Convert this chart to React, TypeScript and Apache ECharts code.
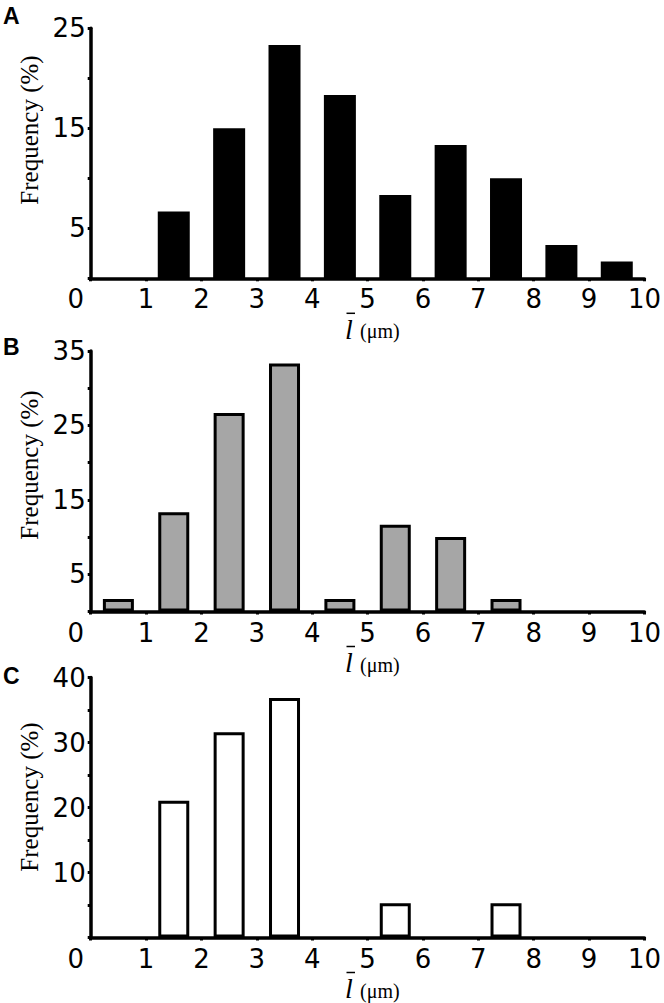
import React, { useEffect, useRef } from "react";
import * as echarts from "echarts";

// Bin centres (µm) and frequencies (%)
const binCenters = [0.5, 1.5, 2.5, 3.5, 4.5, 5.5, 6.5, 7.5, 8.5, 9.5];
const freqA = [0, 6.67, 15.0, 23.33, 18.33, 8.33, 13.33, 10.0, 3.33, 1.67];
const freqB = [1.67, 13.33, 26.67, 33.33, 1.67, 11.67, 10.0, 1.67, 0, 0];
const freqC = [0, 21.05, 31.58, 36.84, 0, 5.26, 0, 5.26, 0, 0];

const xMin = 0;
const xMax = 10;
const yMaxes = [25, 35, 40];
const yLabelsA = [5, 15, 25];
const yLabelsB = [5, 15, 25, 35];
const yLabelsC = [10, 20, 30, 40];
const panelLetters = ["A", "B", "C"];

// layout (pixels)
const W = 664;
const H = 1003;
const GRID_LEFT = 90.7;
const GRID_RIGHT = 18;
const panelTop = [28.3, 351, 677.5];
const panelZero = [278.3, 611.5, 937.5];
const yNameCenter = [130, 465, 797];
const letterTop = [4, 335, 664];

const TICK_FONT = "DejaVu Sans";
const SERIF = "Liberation Serif";

export default function App() {
  const ref = useRef<HTMLDivElement>(null);

  useEffect(() => {
    if (!ref.current) return;
    const chart = echarts.init(ref.current, undefined, { renderer: "svg" });

    const freqs = [freqA, freqB, freqC];
    const yLabelSets = [yLabelsA, yLabelsB, yLabelsC];
    const fills = ["#000000", "#a6a6a6", "#ffffff"];
    const borders = [0, 3, 3];
    const widths = [32, 31, 31];

    const grids = [0, 1, 2].map((i) => ({
      left: GRID_LEFT,
      right: GRID_RIGHT,
      top: panelTop[i],
      bottom: H - panelZero[i],
      containLabel: false,
    }));

    const xAxes = [0, 1, 2].map((i) => ({
      type: "value",
      gridIndex: i,
      min: xMin,
      max: xMax,
      interval: 1,
      splitLine: { show: false },
      axisLine: { show: true, lineStyle: { color: "#000", width: 3.5 } },
      axisTick: { show: true, length: 3, lineStyle: { color: "#000", width: 3 } },
      axisLabel: {
        color: "#000",
        fontFamily: TICK_FONT,
        fontSize: 26,
        margin: 8,
        formatter: (v: number) => (v === 0 ? "{z|0}" : String(v)),
        rich: {
          z: { padding: [0, 30, 0, 0], fontFamily: TICK_FONT, fontSize: 26, color: "#000" },
        },
      },
    }));

    const yAxes = [0, 1, 2].map((i) => ({
      type: "value",
      gridIndex: i,
      min: 0,
      max: yMaxes[i],
      interval: 5,
      splitLine: { show: false },
      axisLine: { show: true, lineStyle: { color: "#000", width: 3.5 } },
      axisTick: { show: true, length: 3, lineStyle: { color: "#000", width: 3 } },
      axisLabel: {
        color: "#000",
        fontFamily: TICK_FONT,
        fontSize: 26,
        margin: 5,
        formatter: (v: number) => (yLabelSets[i].includes(v) ? String(v) : ""),
      },
    }));

    const series = [0, 1, 2].map((i) => ({
      type: "bar",
      xAxisIndex: i,
      yAxisIndex: i,
      barWidth: widths[i],
      data: binCenters
        .map((c, k) => [c, freqs[i][k]])
        .filter((d) => d[1] > 0),
      itemStyle: {
        color: fills[i],
        borderColor: "#000",
        borderWidth: borders[i],
      },
      silent: true,
    }));

    const graphic: any[] = [];
    [0, 1, 2].forEach((i) => {
      graphic.push({
        type: "text",
        x: 3,
        y: letterTop[i],
        style: {
          text: panelLetters[i],
          fontFamily: "Liberation Sans",
          fontWeight: "bold",
          fontSize: 23,
          fill: "#000",
          align: "left",
          verticalAlign: "top",
        },
      });
      graphic.push({
        type: "text",
        x: 29.5,
        y: yNameCenter[i],
        rotation: Math.PI / 2,
        style: {
          text: "Frequency (%)",
          fontFamily: SERIF,
          fontSize: 25,
          fill: "#000",
          align: "center",
          verticalAlign: "middle",
        },
      });
      const z = panelZero[i];
      graphic.push({
        type: "text",
        x: 345,
        y: z + 51,
        style: {
          text: "l",
          fontFamily: SERIF,
          fontStyle: "italic",
          fontSize: 28,
          fill: "#000",
          align: "left",
          verticalAlign: "middle",
        },
      });
      graphic.push({
        type: "line",
        shape: { x1: 346.5, y1: z + 35, x2: 355, y2: z + 35 },
        style: { stroke: "#000", lineWidth: 1.5 },
      });
      graphic.push({
        type: "text",
        x: 360,
        y: z + 53,
        style: {
          text: "(μm)",
          fontFamily: SERIF,
          fontSize: 20,
          fill: "#000",
          align: "left",
          verticalAlign: "middle",
        },
      });
    });

    chart.setOption({
      animation: false,
      backgroundColor: "#ffffff",
      grid: grids,
      xAxis: xAxes,
      yAxis: yAxes,
      series,
      graphic,
    });

    return () => chart.dispose();
  }, []);

  return (
    <div
      ref={ref}
      style={{ position: "absolute", left: 0, top: 0, width: W, height: H }}
    />
  );
}
